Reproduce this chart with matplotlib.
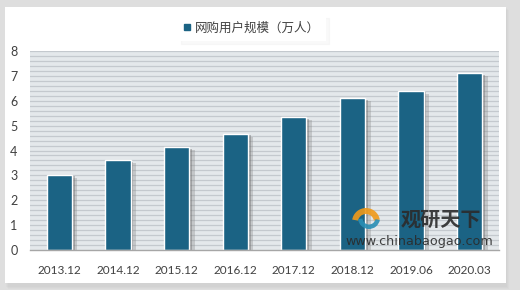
import matplotlib
matplotlib.use("Agg")
import matplotlib.pyplot as plt
import matplotlib.patheffects as pe
from matplotlib.patches import Rectangle, Wedge
import numpy as np

categories = ["2013.12", "2014.12", "2015.12", "2016.12", "2017.12", "2018.12", "2019.06", "2020.03"]
values = [3.02, 3.61, 4.13, 4.67, 5.33, 6.10, 6.39, 7.10]
series_name = "网购用户规模（万人）"
yticks = [0, 1, 2, 3, 4, 5, 6, 7, 8]

bar_color = "#1b6384"
cjk = ["Noto Sans CJK SC", "DejaVu Sans"]

fig = plt.figure(figsize=(5.2, 2.9), dpi=100)
fig.patch.set_facecolor("#dedede")

# white panel with soft shadow
for i, a in enumerate([0.05, 0.05, 0.05]):
    fig.patches.append(Rectangle((5/520 + (i+1)*1/520, 4/290 - (i+1)*1/290), 501/520, 279/290,
                                 transform=fig.transFigure, facecolor="#999999", alpha=a,
                                 edgecolor="none", zorder=0))
fig.patches.append(Rectangle((5/520, 7/290), 501/520, 276/290, transform=fig.transFigure,
                             facecolor="white", edgecolor="none", zorder=1))

ax = fig.add_axes([30/520, 40/290, 469/520, 199/290])
ax.set_facecolor("#e4e8eb")
ax.set_zorder(2)

# striped background lines
for yv in np.arange(0.2, 8.01, 0.2):
    ax.axhline(yv, color="#c4c9ce", lw=0.9, zorder=0.5)

x = np.arange(len(categories))
bars = ax.bar(x, values, width=0.43, color=bar_color, edgecolor="white", linewidth=1.0,
              zorder=3, label=series_name)
for b in bars:
    b.set_path_effects([pe.SimplePatchShadow(offset=(4, -2), shadow_rgbFace="#8a8a8a", alpha=0.35),
                        pe.SimplePatchShadow(offset=(2, -1), shadow_rgbFace="#6a6a6a", alpha=0.4),
                        pe.Normal()])

ax.set_xlim(-0.5, len(categories) - 0.5)
ax.set_ylim(0, 8)
ax.set_yticks(yticks)
ax.set_xticks(x)
ax.set_xticklabels(categories, fontfamily="Lato", fontsize=8.5, color="#404040")
ax.set_yticklabels([str(t) for t in yticks], fontfamily="Lato", fontsize=9, color="#404040")
ax.tick_params(axis="both", length=0)
ax.tick_params(axis="x", pad=11)
ax.tick_params(axis="y", pad=9)
for s in ["top", "right", "left"]:
    ax.spines[s].set_visible(False)
ax.spines["bottom"].set_color("#a6a6a6")
ax.spines["bottom"].set_linewidth(1.0)
ax.spines["bottom"].set_zorder(4)

# legend
leg = fig.legend(handles=[Rectangle((0, 0), 1, 1, color=bar_color)], labels=[series_name],
                 loc="center", bbox_to_anchor=(252/520, 1 - 28/290), frameon=True,
                 prop={"family": cjk, "size": 9}, handlelength=0.45, handleheight=0.45,
                 handletextpad=0.4, borderpad=0.5, borderaxespad=0, fancybox=False,
                 shadow={"ox": 2, "oy": -2, "color": "#000000", "alpha": 0.025})
leg.get_frame().set_edgecolor("none")
leg.get_frame().set_facecolor("white")
for t in leg.get_texts():
    t.set_color("#404040")
leg.set_zorder(5)

# watermark
wax = fig.add_axes([0, 0, 1, 1], facecolor="none")
wax.set_zorder(6)
wax.set_xlim(0, 520)
wax.set_ylim(290, 0)
wax.axis("off")
wax.add_patch(Wedge((366, 222), 14, 190, 350, width=6, facecolor="#f09a1a", edgecolor="none", alpha=0.9))
wax.add_patch(Wedge((369, 218), 11, 10, 175, width=4.5, facecolor="#2a8fb5", edgecolor="none", alpha=0.9))
wax.text(441, 219, "观研天下", family=cjk, fontsize=14.5, fontweight="bold", color="#2b2b2b",
         ha="center", va="center", alpha=0.9)
wax.text(419, 241, "www.chinabaogao.com", family="DejaVu Sans", fontsize=9.2, color="#2b2b2b",
         ha="center", va="center", alpha=0.9)

fig.savefig("out.png", dpi=100, facecolor=fig.get_facecolor())
